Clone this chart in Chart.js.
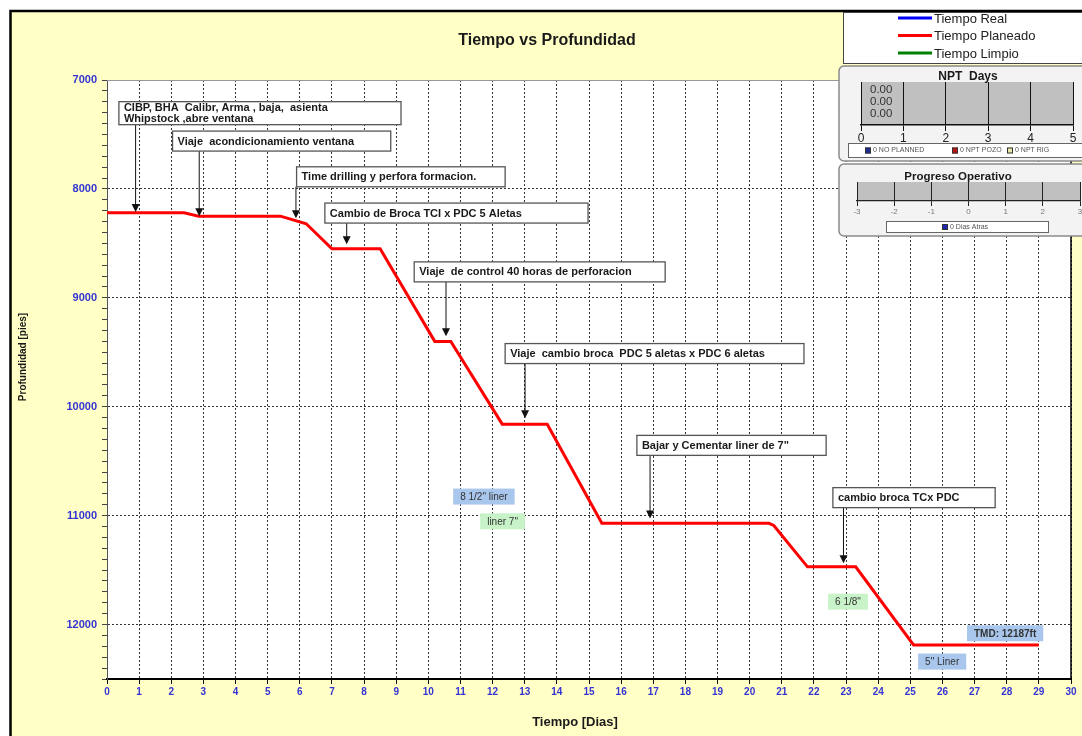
<!DOCTYPE html>
<html>
<head>
<meta charset="utf-8">
<script src="https://cdn.jsdelivr.net/npm/chart.js@4.4.0/dist/chart.umd.min.js"></script>
<style>
html, body { margin: 0; padding: 0; background: #fff; overflow: hidden; }
#wrap { position: relative; width: 1082px; height: 736px; overflow: hidden; }
canvas { position: absolute; }
#main { left: 0; top: 0; }
#npt { left: 838px; top: 65px; }
#prog { left: 838px; top: 163px; }
</style>
</head>
<body>
<div id="wrap">
  <canvas id="main" width="1082" height="736"></canvas>
  <canvas id="npt" width="260" height="97"></canvas>
  <canvas id="prog" width="260" height="74"></canvas>
</div>
<script>
const FONT = 'Arial, "Liberation Sans", sans-serif';
Chart.defaults.font.family = FONT;
Chart.defaults.animation = false;

// Tiempo planeado (dias vs pies)
const dias = [0, 2.4, 2.85, 5.4, 6.2, 7.0, 8.5, 10.2, 10.7, 12.3, 13.7, 15.4, 20.6, 20.75, 21.8, 23.3, 25.1, 29.0];
const profundidad = [8220, 8220, 8250, 8250, 8320, 8550, 8550, 9400, 9400, 10160, 10160, 11070, 11070, 11090, 11470, 11470, 12187, 12187];
const tiempoReal = [];
const tiempoLimpio = [];

const serieNombres = ['Tiempo Real', 'Tiempo Planeado', 'Tiempo Limpio'];
const serieColores = ['#0000ff', '#ff0000', '#008000'];

// eventos: flecha en (dia, prof), caja desde izq hasta der (dias), arriba (pies)
const eventos = [
    { texto: ['CIBP, BHA  Calibr, Arma , baja,  asienta', 'Whipstock ,abre ventana'], dia: 0.89, prof: 8213, izq: 0.37, der: 9.15, arriba: 7199 },
    { texto: ['Viaje  acondicionamiento ventana'], dia: 2.87, prof: 8251, izq: 2.04, der: 8.83, arriba: 7469 },
    { texto: ['Time drilling y perfora formacion.'], dia: 5.88, prof: 8270, izq: 5.9, der: 12.39, arriba: 7797 },
    { texto: ['Cambio de Broca TCI x PDC 5 Aletas'], dia: 7.46, prof: 8508, izq: 6.78, der: 14.97, arriba: 8130 },
    { texto: ['Viaje  de control 40 horas de perforacion'], dia: 10.55, prof: 9352, izq: 9.56, der: 17.37, arriba: 8670 },
    { texto: ['Viaje  cambio broca  PDC 5 aletas x PDC 6 aletas'], dia: 13.01, prof: 10106, izq: 12.39, der: 21.69, arriba: 9420 },
    { texto: ['Bajar y Cementar liner de 7"'], dia: 16.9, prof: 11026, izq: 16.49, der: 22.38, arriba: 10263 },
    { texto: ['cambio broca TCx PDC'], dia: 22.92, prof: 11437, izq: 22.59, der: 27.64, arriba: 10743 }
];

// etiquetas de revestimiento
const etiquetas = [
    { texto: '8 1/2" liner', dia: 11.73, prof: 10825, tipo: 'azul' },
    { texto: 'liner 7"', dia: 12.31, prof: 11052, tipo: 'verde' },
    { texto: '6 1/8"', dia: 23.06, prof: 11790, tipo: 'verde' },
    { texto: 'TMD: 12187ft', dia: 27.95, prof: 12080, tipo: 'azul', negrita: true },
    { texto: '5" Liner', dia: 25.99, prof: 12340, tipo: 'azul' }
];

// paneles pequeños
const nptNombres = ['NO PLANNED', 'NPT POZO', 'NPT RIG'];
const nptValores = [0, 0, 0];
const nptColores = ['#1c2a96', '#b81414', '#e8e8a8'];
const progNombres = ['Dias Atras'];
const progValores = [0];
const progColores = ['#1c2ab0'];

const planeado = dias.map((d, i) => ({ x: d, y: profundidad[i] }));
const series = [tiempoReal, planeado, tiempoLimpio];

const fondo = {
    id: 'fondo',
    beforeDraw(chart) {
        const ctx = chart.ctx;
        const a = chart.chartArea;
        ctx.save();
        ctx.fillStyle = '#fff';
        ctx.fillRect(0, 0, chart.width, chart.height);
        ctx.fillStyle = '#ffffc6';
        ctx.fillRect(10, 11, chart.width, chart.height);
        ctx.fillStyle = '#fff';
        ctx.fillRect(a.left, a.top, a.right - a.left, a.bottom - a.top);
        ctx.strokeStyle = '#000';
        ctx.lineWidth = 2.5;
        ctx.beginPath();
        ctx.moveTo(10.5, chart.height);
        ctx.lineTo(10.5, 11);
        ctx.lineTo(chart.width, 11);
        ctx.stroke();
        ctx.restore();
    },
    afterDatasetsDraw(chart) {
        const ctx = chart.ctx;
        const a = chart.chartArea;
        const x = chart.scales.x, y = chart.scales.y;
        ctx.save();
        // marco
        ctx.strokeStyle = '#999';
        ctx.lineWidth = 1;
        ctx.beginPath();
        ctx.moveTo(a.left, a.top + 0.5);
        ctx.lineTo(a.right, a.top + 0.5);
        ctx.stroke();
        ctx.strokeStyle = '#000';
        ctx.lineWidth = 1.5;
        ctx.beginPath();
        ctx.moveTo(a.right, a.top);
        ctx.lineTo(a.right, a.bottom);
        ctx.stroke();

        // eventos con flecha
        ctx.font = 'bold 11px ' + FONT;
        ctx.textBaseline = 'middle';
        ctx.textAlign = 'left';
        eventos.forEach(ev => {
            const bx = x.getPixelForValue(ev.izq);
            const bw = x.getPixelForValue(ev.der) - bx;
            const by = y.getPixelForValue(ev.arriba);
            const bh = ev.texto.length > 1 ? 23 : 20;
            const ax = x.getPixelForValue(ev.dia);
            const ty = y.getPixelForValue(ev.prof);
            ctx.strokeStyle = '#111';
            ctx.lineWidth = 1;
            ctx.beginPath();
            ctx.moveTo(ax, by + bh);
            ctx.lineTo(ax, ty - 7);
            ctx.stroke();
            ctx.fillStyle = '#111';
            ctx.beginPath();
            ctx.moveTo(ax - 4, ty - 8);
            ctx.lineTo(ax + 4, ty - 8);
            ctx.lineTo(ax, ty);
            ctx.closePath();
            ctx.fill();
            ctx.fillStyle = '#fff';
            ctx.fillRect(bx, by, bw, bh);
            ctx.strokeStyle = '#555';
            ctx.lineWidth = 1.3;
            ctx.strokeRect(bx, by, bw, bh);
            ctx.fillStyle = '#1a1a1a';
            if (ev.texto.length > 1) {
                ctx.fillText(ev.texto[0], bx + 5, by + 6.5);
                ctx.fillText(ev.texto[1], bx + 5, by + 17);
            } else {
                ctx.fillText(ev.texto[0], bx + 5, by + bh / 2 + 0.5);
            }
        });

        // etiquetas de color
        etiquetas.forEach(et => {
            ctx.font = (et.negrita ? 'bold ' : '') + '10px ' + FONT;
            const w = ctx.measureText(et.texto).width + 14;
            const h = 16;
            const cx = x.getPixelForValue(et.dia);
            const cy = y.getPixelForValue(et.prof);
            ctx.fillStyle = et.tipo === 'azul' ? '#a9c6ec' : '#c8f3c8';
            ctx.fillRect(cx - w / 2, cy - h / 2, w, h);
            ctx.fillStyle = '#333';
            ctx.textAlign = 'center';
            ctx.fillText(et.texto, cx, cy + 0.5);
        });
        ctx.restore();
    },
    afterDraw(chart) {
        const ctx = chart.ctx;
        ctx.save();
        ctx.fillStyle = '#1a1a1a';
        ctx.textAlign = 'center';
        ctx.textBaseline = 'middle';
        ctx.font = 'bold 16px ' + FONT;
        ctx.fillText('Tiempo vs Profundidad', 547, 41);
        ctx.font = 'bold 13px ' + FONT;
        ctx.fillText('Tiempo [Dias]', 575, 722);
        ctx.translate(23, 357);
        ctx.rotate(-Math.PI / 2);
        ctx.font = 'bold 10px ' + FONT;
        ctx.fillText('Profundidad [pies]', 0, 0);
        ctx.restore();

        // leyenda
        ctx.save();
        ctx.fillStyle = '#fff';
        ctx.fillRect(843, 12, 260, 51);
        ctx.strokeStyle = '#444';
        ctx.lineWidth = 1;
        ctx.strokeRect(843.5, 12.5, 260, 51);
        ctx.font = '13px ' + FONT;
        ctx.textBaseline = 'middle';
        ctx.textAlign = 'left';
        chart.data.datasets.forEach((ds, i) => {
            const ly = 18 + i * 17.5;
            ctx.strokeStyle = ds.borderColor;
            ctx.lineWidth = 3;
            ctx.beginPath();
            ctx.moveTo(898, ly);
            ctx.lineTo(932, ly);
            ctx.stroke();
            ctx.fillStyle = '#222';
            ctx.fillText(ds.label, 934, ly + 1);
        });
        ctx.restore();
    }
};

new Chart(document.getElementById('main'), {
    type: 'line',
    data: {
        datasets: serieNombres.map((n, i) => ({
            label: n,
            data: series[i],
            borderColor: serieColores[i],
            backgroundColor: serieColores[i],
            borderWidth: 3,
            pointRadius: 0,
            fill: false,
            tension: 0
        }))
    },
    options: {
        responsive: false,
        animation: false,
        layout: { padding: { top: 80, right: 11, left: 0, bottom: 0 } },
        plugins: { legend: { display: false }, tooltip: { enabled: false }, title: { display: false } },
        scales: {
            x: {
                type: 'linear',
                min: 0,
                max: 30,
                afterFit: s => { s.height = 57; },
                ticks: { stepSize: 1, autoSkip: false, maxRotation: 0, color: '#3434d4', font: { size: 10, weight: 'bold' }, padding: 2 },
                grid: { color: '#333', lineWidth: 1, tickColor: '#111', tickLength: 5 },
                border: { color: '#000', width: 2, dash: [2, 2] }
            },
            y: {
                type: 'linear',
                min: 7000,
                max: 12500,
                reverse: true,
                afterFit: s => { s.width = 107; },
                ticks: {
                    stepSize: 100,
                    autoSkip: false,
                    color: '#3434d4',
                    font: { size: 11, weight: 'bold' },
                    padding: 5,
                    callback: v => (v % 1000 === 0 ? v : '')
                },
                grid: {
                    color: c => (c.tick && c.tick.value % 1000 === 0 && c.tick.value !== 7000 ? '#333' : 'rgba(0,0,0,0)'),
                    lineWidth: 1,
                    tickColor: '#444',
                    tickLength: 5
                },
                border: { color: '#555', width: 1, dash: [2, 2] }
            }
        }
    },
    plugins: [fondo]
});

function panel(titulo, tituloX, tituloY, tituloSize, caja, posiciones, nombres, valores, colores, etiquetasValor) {
    return {
        id: 'panel',
        beforeDraw(chart) {
            const ctx = chart.ctx;
            const a = chart.chartArea;
            ctx.save();
            ctx.fillStyle = '#f3f3f3';
            ctx.strokeStyle = '#8a8a8a';
            ctx.lineWidth = 1.5;
            ctx.beginPath();
            ctx.roundRect(1, 1, chart.width + 10, chart.height - 2, 5);
            ctx.fill();
            ctx.stroke();
            ctx.fillStyle = '#c0c0c0';
            ctx.fillRect(a.left, a.top, a.right - a.left, a.bottom - a.top);
            ctx.restore();
        },
        afterDatasetsDraw(chart) {
            if (!etiquetasValor) return;
            const ctx = chart.ctx;
            const meta = chart.getDatasetMeta(0);
            ctx.save();
            ctx.font = '11.5px ' + FONT;
            ctx.fillStyle = '#333';
            ctx.textBaseline = 'middle';
            meta.data.forEach((el, i) => {
                ctx.fillText(valores[i].toFixed(2), chart.scales.x.getPixelForValue(valores[i]) + 9, el.y + 1 - i * 2.3);
            });
            ctx.restore();
        },
        afterDraw(chart) {
            const ctx = chart.ctx;
            ctx.save();
            ctx.fillStyle = '#1a1a1a';
            ctx.textAlign = 'center';
            ctx.textBaseline = 'middle';
            ctx.font = 'bold ' + tituloSize + 'px ' + FONT;
            ctx.fillText(titulo, tituloX, tituloY);
            ctx.fillStyle = '#fff';
            ctx.fillRect(caja[0], caja[1], caja[2], caja[3]);
            ctx.strokeStyle = '#666';
            ctx.lineWidth = 1;
            ctx.strokeRect(caja[0] + 0.5, caja[1] + 0.5, caja[2], caja[3]);
            ctx.font = '7px ' + FONT;
            ctx.textAlign = 'left';
            const my = caja[1] + caja[3] / 2 + 0.5;
            nombres.forEach((n, i) => {
                const px = posiciones[i];
                ctx.fillStyle = colores[i];
                ctx.fillRect(px, my - 3, 6, 6);
                ctx.strokeStyle = '#333';
                ctx.strokeRect(px + 0.5, my - 2.5, 5, 5);
                ctx.fillStyle = '#555';
                ctx.fillText(valores[i] + ' ' + n, px + 8, my);
            });
            ctx.restore();
        }
    };
}

new Chart(document.getElementById('npt'), {
    type: 'bar',
    data: { labels: nptNombres, datasets: [{ data: nptValores, backgroundColor: nptColores }] },
    options: {
        responsive: false,
        indexAxis: 'y',
        layout: { padding: { left: 23, right: 25, top: 17, bottom: 0 } },
        plugins: { legend: { display: false }, tooltip: { enabled: false } },
        scales: {
            x: {
                min: 0,
                max: 5,
                afterFit: s => { s.height = 37; },
                ticks: { stepSize: 1, color: '#222', font: { size: 12 }, padding: 0 },
                grid: { color: '#111', lineWidth: 1, tickColor: '#111', tickLength: 6 },
                border: { color: '#111', width: 1.5 }
            },
            y: { display: false }
        }
    },
    plugins: [panel('NPT  Days', 130, 12, 12, [10, 78, 260, 14], [27, 114, 169], nptNombres, nptValores, nptColores, true)]
});

new Chart(document.getElementById('prog'), {
    type: 'bar',
    data: { labels: progNombres, datasets: [{ data: progValores, backgroundColor: progColores }] },
    options: {
        responsive: false,
        indexAxis: 'y',
        layout: { padding: { left: 19, right: 18, top: 19, bottom: 0 } },
        plugins: { legend: { display: false }, tooltip: { enabled: false } },
        scales: {
            x: {
                min: -3,
                max: 3,
                afterFit: s => { s.height = 36; },
                ticks: { stepSize: 1, color: '#777', font: { size: 8 }, padding: 1 },
                grid: { color: '#222', lineWidth: 1, tickColor: '#222', tickLength: 5 },
                border: { color: '#222', width: 1.2 }
            },
            y: { display: false }
        }
    },
    plugins: [panel('Progreso Operativo', 120, 14, 11.5, [48, 58, 162, 11], [104], progNombres, progValores, progColores, false)]
});
</script>
</body>
</html>
